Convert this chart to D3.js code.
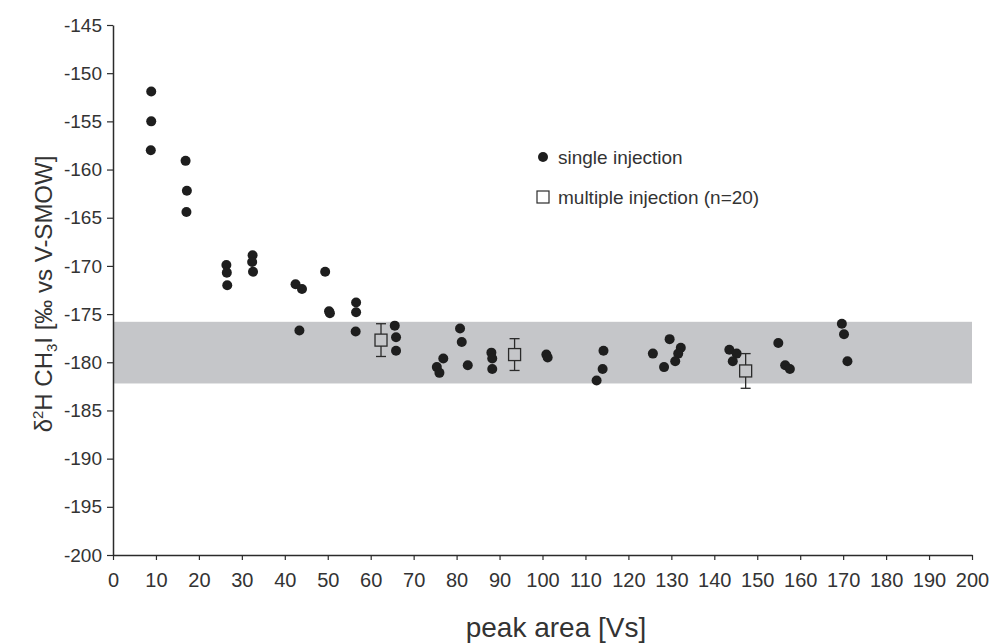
<!DOCTYPE html>
<html><head><meta charset="utf-8">
<script src="https://cdn.jsdelivr.net/npm/d3@7"></script>
<style>body{margin:0;background:#fff}svg{display:block}</style>
</head><body>
<svg id="chart" width="992" height="644"></svg>
<script>
// single injection points: peak area [Vs], delta2H
const singleX = [8.9, 8.9, 8.8, 16.9, 17.2, 17.1, 26.4, 26.5, 26.6, 32.5, 32.4, 32.6, 42.5, 44.0, 43.4, 49.4, 50.3, 50.5,
  56.6, 56.6, 56.5, 65.6, 65.9, 65.9, 76.9, 75.4, 76.0, 80.8, 81.2, 82.6, 88.1, 88.3, 88.3, 100.9, 101.2,
  114.2, 114.0, 112.6, 125.7, 129.6, 128.3, 132.2, 131.6, 130.9, 143.5, 145.2, 144.3, 154.9, 156.5, 157.6, 169.7, 170.2, 171.0];
const singleY = [-151.9, -155.0, -158.0, -159.1, -162.2, -164.4, -169.9, -170.7, -172.0, -168.9, -169.6, -170.6, -171.9, -172.4, -176.7, -170.6, -174.7, -174.9,
  -173.8, -174.8, -176.8, -176.2, -177.4, -178.8, -179.6, -180.5, -181.1, -176.5, -177.9, -180.3, -179.0, -179.6, -180.7, -179.2, -179.5,
  -178.8, -180.7, -181.9, -179.1, -177.6, -180.5, -178.5, -179.1, -179.9, -178.7, -179.1, -179.9, -178.0, -180.3, -180.7, -176.0, -177.1, -179.9];
// multiple injection (n=20): mean and standard deviation
const multiX = [62.4, 93.5, 147.3];
const multiY = [-177.7, -179.2, -180.9];
const multiErr = [1.7, 1.65, 1.8];
// grey band (range)
const bandRange = [-175.8, -182.2];
const xTicks = d3.range(0, 201, 10);
const yTicks = d3.range(-145, -201, -5);
const legendLabels = ["single injection", "multiple injection (n=20)"];

const svg = d3.select("#chart");
const m = {left: 113, right: 972, top: 25, bottom: 555};
const x = d3.scaleLinear().domain([0, 200]).range([m.left, m.right]);
const y = d3.scaleLinear().domain([-145, -200]).range([m.top, m.bottom]);
const ink = "#2b2b2b";
const font = "Liberation Sans, Arial, sans-serif";

svg.append("rect")
  .attr("x", x(0)).attr("width", x(200) - x(0))
  .attr("y", y(bandRange[0])).attr("height", y(bandRange[1]) - y(bandRange[0]))
  .attr("fill", "#c5c6c9");

const xAxis = svg.append("g").attr("transform", `translate(0,${m.bottom})`)
  .call(d3.axisBottom(x).tickValues(xTicks).tickSize(5).tickSizeOuter(0).tickPadding(13));
const yAxis = svg.append("g").attr("transform", `translate(${m.left},0)`)
  .call(d3.axisLeft(y).tickValues(yTicks).tickSize(6).tickSizeOuter(0).tickPadding(5)
    .tickFormat(d => "-" + Math.abs(d)));
[xAxis, yAxis].forEach(g => {
  g.select(".domain").attr("stroke", ink).attr("stroke-width", 1.5);
  g.selectAll(".tick line").attr("stroke", ink).attr("stroke-width", 1.2);
  g.selectAll("text").attr("fill", "#333").attr("font-family", font).attr("font-size", 19);
});
xAxis.selectAll("text").attr("font-size", 20);

svg.append("g").selectAll("circle").data(singleX).join("circle")
  .attr("cx", (d) => x(d)).attr("cy", (d, i) => y(singleY[i])).attr("r", 5)
  .attr("fill", "#1e1e1e");

const mg = svg.append("g").attr("stroke", ink).attr("stroke-width", 1.3).attr("fill", "none");
multiX.forEach((mx, i) => {
  const cx = x(mx), cy = y(multiY[i]);
  const t = y(multiY[i] + multiErr[i]), b = y(multiY[i] - multiErr[i]);
  mg.append("line").attr("x1", cx).attr("x2", cx).attr("y1", t).attr("y2", cy - 6);
  mg.append("line").attr("x1", cx).attr("x2", cx).attr("y1", cy + 6).attr("y2", b);
  mg.append("line").attr("x1", cx - 5).attr("x2", cx + 5).attr("y1", t).attr("y2", t);
  mg.append("line").attr("x1", cx - 5).attr("x2", cx + 5).attr("y1", b).attr("y2", b);
  mg.append("rect").attr("x", cx - 6).attr("y", cy - 6).attr("width", 12).attr("height", 12);
});

// legend
const lg = svg.append("g").attr("font-family", font).attr("font-size", 19).attr("fill", "#333");
lg.append("circle").attr("cx", 543).attr("cy", 157).attr("r", 5).attr("fill", "#1e1e1e");
lg.append("text").attr("x", 558).attr("y", 164).text(legendLabels[0]);
lg.append("rect").attr("x", 537).attr("y", 191).attr("width", 12).attr("height", 12)
  .attr("fill", "none").attr("stroke", ink).attr("stroke-width", 1.2);
lg.append("text").attr("x", 558).attr("y", 204).text(legendLabels[1]);

// axis titles
svg.append("text").attr("x", 556).attr("y", 637).attr("text-anchor", "middle")
  .attr("font-family", font).attr("font-size", 28).attr("fill", "#333")
  .text("peak area [Vs]");
const yt = svg.append("text").attr("transform", `translate(52,294) rotate(-90)`)
  .attr("text-anchor", "middle").attr("font-family", font)
  .attr("font-size", 24).attr("fill", "#333");
yt.append("tspan").text("δ");
yt.append("tspan").attr("dy", -9).attr("font-size", 15).text("2");
yt.append("tspan").attr("dy", 9).text("H CH");
yt.append("tspan").attr("dy", 5).attr("font-size", 15).text("3");
yt.append("tspan").attr("dy", -5).text("I [‰ vs V-SMOW]");
</script>
</body></html>
